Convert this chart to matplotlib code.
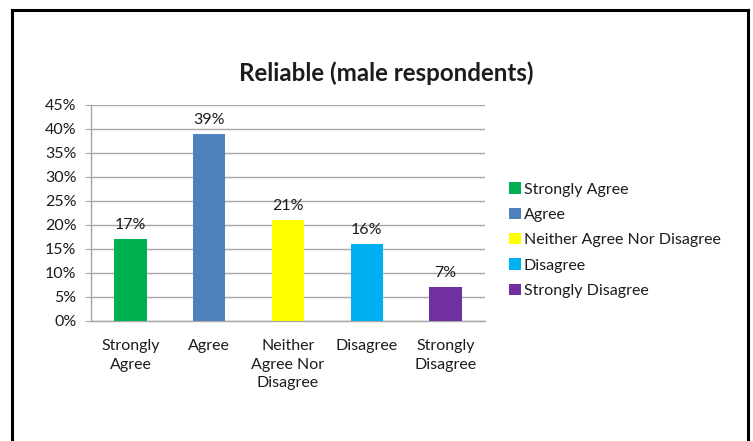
import matplotlib
matplotlib.use("Agg")
import matplotlib.pyplot as plt
from matplotlib.patches import Patch
from matplotlib.lines import Line2D

categories = ["Strongly\nAgree", "Agree", "Neither\nAgree Nor\nDisagree", "Disagree", "Strongly\nDisagree"]
legend_labels = ["Strongly Agree", "Agree", "Neither Agree Nor Disagree", "Disagree", "Strongly Disagree"]
values = [17, 39, 21, 16, 7]
colors = ["#00B050", "#4F81BD", "#FFFF00", "#00B0F0", "#7030A0"]
yticks = [0, 5, 10, 15, 20, 25, 30, 35, 40, 45]

plt.rcParams["font.family"] = ["Lato", "DejaVu Sans"]
TXT = "#1c1c1c"
FS = 11.5

W, H = 753, 441
fig = plt.figure(figsize=(W / 100, H / 100), dpi=100)
fig.patch.set_facecolor("white")

ax = fig.add_axes([91 / W, 1 - 321 / H, (485 - 91) / W, (321 - 105) / H])
x = list(range(len(values)))
bars = ax.bar(x, values, width=0.41, color=colors, zorder=3)

ax.set_xlim(-0.5, len(values) - 0.5)
ax.set_ylim(0, 45)
ax.set_yticks(yticks)
ax.set_yticklabels([f"{t}%" for t in yticks], fontsize=FS, color=TXT)
ax.set_xticks(x)
ax.set_xticklabels(categories, fontsize=FS, color=TXT, linespacing=1.42, va="top")
ax.tick_params(axis="x", length=0, pad=13)
ax.tick_params(axis="y", length=4, color="#A6A6A6", pad=6.5)
ax.yaxis.grid(True, color="#A6A6A6", linewidth=1, zorder=0)
ax.set_axisbelow(True)
for side in ["top", "right"]:
    ax.spines[side].set_visible(False)
for side in ["left", "bottom"]:
    ax.spines[side].set_color("#A6A6A6")
    ax.spines[side].set_linewidth(1)

for rect, v in zip(bars, values):
    ax.annotate(f"{v}%", (rect.get_x() + rect.get_width() / 2, v),
                xytext=(0, 5), textcoords="offset points",
                ha="center", va="bottom", fontsize=FS, color=TXT)

fig.text(386 / W, 1 - 73 / H, "Reliable (male respondents)", ha="center", va="center",
         fontsize=17.4, fontweight="bold", color=TXT)

handles = [Patch(facecolor=c, edgecolor="none") for c in colors]
fig.legend(handles, legend_labels, loc="upper left",
           bbox_to_anchor=(503 / W, 1 - 176 / H), frameon=False,
           fontsize=FS, handlelength=0.7, handleheight=0.7,
           handletextpad=0.2, labelspacing=0.7, borderaxespad=0,
           labelcolor=TXT)

# outer frame
frame_kw = dict(color="black", linewidth=2.2, transform=fig.transFigure, figure=fig)
fig.lines.append(Line2D([12 / W, 12 / W], [0, 1 - 10 / H], **frame_kw))
fig.lines.append(Line2D([12 / W, 748 / W], [1 - 10 / H, 1 - 10 / H], **frame_kw))
fig.lines.append(Line2D([748 / W, 748 / W], [0, 1 - 10 / H], **frame_kw))

fig.savefig("out.png", dpi=100)
